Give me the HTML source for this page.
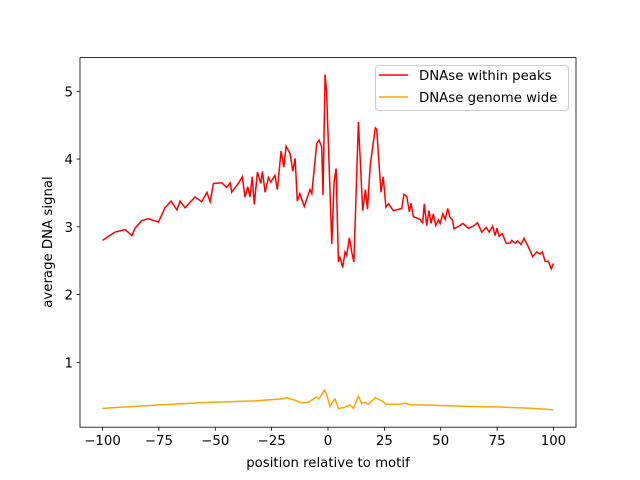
<!DOCTYPE html>
<html><head><meta charset="utf-8"><style>
body{margin:0;background:#fff}
svg{display:block;font-family:"DejaVu Sans","Liberation Sans",sans-serif}
</style></head><body>
<svg id="chart" width="640" height="480">
<rect x="0" y="0" width="640" height="480" fill="#fff"/>
<g id="plot"></g>
<rect x="80" y="57.6" width="496" height="369.6" fill="none" stroke="#000" stroke-width="0.8"/>
<g id="axes"></g>
<text x="328" y="467" font-size="13.3" text-anchor="middle">position relative to motif</text>
<text transform="translate(52,242) rotate(-90)" font-size="13.3" text-anchor="middle">average DNA signal</text>
<g>
<rect x="375.5" y="65.5" width="193" height="45" rx="3" fill="#fff" fill-opacity="0.8" stroke="#ccc"/>
<line x1="379" y1="75" x2="408" y2="75" stroke="red" stroke-width="1.5"/>
<text x="419" y="80" font-size="13.3">DNAse within peaks</text>
<line x1="379" y1="97" x2="408" y2="97" stroke="orange" stroke-width="1.5"/>
<text x="419" y="102" font-size="13.3">DNAse genome wide</text>
</g>
</svg>
<script>
const xTicks=[-100,-75,-50,-25,0,25,50,75,100];
const yTicks=[1,2,3,4,5];
const peaksX=[-100,-94.5,-90,-87,-85.6,-82.6,-79.7,-75.2,-72.3,-69.6,-67,-65.6,-63.4,-59,-56,-53.7,-52.3,-50.8,-47.1,-44.9,-43.4,-42.7,-39.8,-38,-36.8,-35.6,-34.6,-33.6,-32.7,-31.3,-29.8,-29.1,-27.9,-26.4,-25.4,-23.5,-22.5,-20.8,-19.6,-18.6,-16.8,-15.6,-14.6,-13.6,-12.5,-10.5,-8,-7.2,-5,-4,-2.8,-2.2,-1.3,-0.6,1.7,2.7,3.6,4.6,5.3,6.5,7.6,8.3,9.5,10.5,11.5,13.5,15.4,16.6,17.5,18.7,21,21.6,23.5,24.5,25.7,26.8,29,32.7,33.7,34.9,36.1,36.8,37.9,40.8,42,42.7,43.8,44.8,45.7,46.7,47.8,49,49.7,50.9,52,53.1,54.1,55.2,55.9,58.6,59.8,62.3,64.5,66.3,68.2,70.2,71.5,73,74.1,74.9,75.9,77.3,79,80.8,81.5,83,84.2,85.6,87,88.9,90.8,92.6,94.1,95.1,96.3,97.8,99,100];
const peaksY=[2.80,2.92,2.96,2.87,2.98,3.09,3.12,3.07,3.28,3.38,3.25,3.38,3.28,3.44,3.37,3.51,3.37,3.64,3.65,3.58,3.65,3.51,3.64,3.74,3.44,3.59,3.44,3.74,3.33,3.81,3.64,3.82,3.51,3.73,3.66,3.76,3.55,4.12,3.88,4.19,4.08,3.82,4.01,3.38,3.49,3.30,3.55,3.49,4.23,4.28,4.18,3.47,5.25,4.99,2.75,3.66,3.86,2.48,2.55,2.40,2.63,2.58,2.84,2.63,2.48,4.55,3.24,3.55,3.26,3.91,4.46,4.44,3.51,3.74,3.29,3.34,3.24,3.27,3.48,3.45,3.22,3.35,3.15,3.11,3.06,3.34,3.02,3.24,3.05,3.19,3.02,3.10,3.05,3.19,3.11,3.27,3.14,3.10,2.97,3.02,3.05,2.98,3.01,3.06,2.92,2.99,2.92,3.01,2.87,2.98,2.86,2.90,2.76,2.76,2.80,2.76,2.79,2.74,2.83,2.70,2.56,2.63,2.60,2.63,2.49,2.49,2.38,2.46];
const genomeX=[-100,-73.8,-51.6,-32.4,-20.5,-18.3,-14.6,-11.7,-8.7,-5,-4,-1.6,-0.6,0.9,2.4,3.1,4.6,6.8,9.8,11.3,13.5,15,16.4,17.9,21,23.9,25.8,32,34.2,36.5,46.8,61.6,76.3,91.1,100];
const genomeY=[0.32,0.375,0.41,0.43,0.46,0.48,0.44,0.40,0.41,0.49,0.46,0.59,0.53,0.35,0.43,0.46,0.32,0.33,0.37,0.32,0.50,0.39,0.41,0.38,0.48,0.43,0.38,0.38,0.40,0.375,0.365,0.35,0.34,0.32,0.30];
const NS='http://www.w3.org/2000/svg';
const L=80,R=576,T=57.6,B=427.2,X0=-110,X1=110,Y0=0.0425,Y1=5.4975;
function sx(v){return L+(v-X0)/(X1-X0)*(R-L);}
function sy(v){return B-(v-Y0)/(Y1-Y0)*(B-T);}
const plot=document.getElementById('plot'),axes=document.getElementById('axes');
function line(xs,ys,color,name){
  const p=document.createElementNS(NS,'polyline');
  p.setAttribute('points',xs.map((x,i)=>sx(x).toFixed(1)+','+sy(ys[i]).toFixed(1)).join(' '));
  p.setAttribute('fill','none');p.setAttribute('stroke',color);p.setAttribute('stroke-width','1.5');
  
  
  plot.appendChild(p);
}
line(genomeX,genomeY,'orange','series-genome-wide');
line(peaksX,peaksY,'red','series-within-peaks');
xTicks.forEach(v=>{
  const x=sx(v);
  const t=document.createElementNS(NS,'line');
  t.setAttribute('x1',x);t.setAttribute('x2',x);t.setAttribute('y1',B);t.setAttribute('y2',B+3.5);t.setAttribute('stroke','#000');t.setAttribute('stroke-width','0.8');
  
  
  axes.appendChild(t);
  const s=document.createElementNS(NS,'text');
  s.setAttribute('x',x);s.setAttribute('y',B+18);s.setAttribute('font-size','13.3');s.setAttribute('text-anchor','middle');
  s.textContent=(v<0?'\u2212'+(-v):v);
  
  
  axes.appendChild(s);
});
yTicks.forEach(v=>{
  const y=sy(v);
  const t=document.createElementNS(NS,'line');
  t.setAttribute('x1',L-3.5);t.setAttribute('x2',L);t.setAttribute('y1',y);t.setAttribute('y2',y);t.setAttribute('stroke','#000');t.setAttribute('stroke-width','0.8');
  
  
  axes.appendChild(t);
  const s=document.createElementNS(NS,'text');
  s.setAttribute('x',L-7);s.setAttribute('y',y+5);s.setAttribute('font-size','13.3');s.setAttribute('text-anchor','end');
  s.textContent=v;
  
  
  axes.appendChild(s);
});
</script>
</body></html>
